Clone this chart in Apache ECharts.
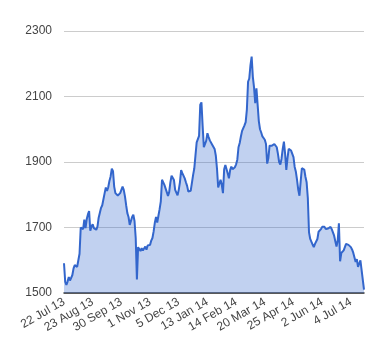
<!DOCTYPE html>
<html>
<head>
<meta charset="utf-8">
<script src="https://cdn.jsdelivr.net/npm/echarts@6/dist/echarts.min.js"></script>
<style>
html,body{margin:0;padding:0;background:#fff;}
#chart{width:380px;height:360px;}
</style>
</head>
<body>
<div id="chart"></div>
<script>
// Tick labels shown every 24 trading days along the x axis
var tickLabels = ['22 Jul 13','23 Aug 13','30 Sep 13','1 Nov 13','5 Dec 13','13 Jan 14','14 Feb 14','20 Mar 14','25 Apr 14','2 Jun 14','4 Jul 14'];
var labelEvery = 24;

// Daily closing values
var values = [
  1591,1535,1525,1535,1549,1538,1540,1555,1575,1585,1584,1580,1580,1620,1700,1700,1695,1724,1698,1725,1740,1750,1690,1703,
  1710,1698,1697,1693,1703,1730,1745,1760,1768,1772,1805,1822,1812,1823,1842,1856,1880,1872,1825,1805,1810,1798,1802,1805,
  1815,1825,1815,1795,1768,1744,1732,1708,1712,1732,1739,1720,1668,1541,1640,1637,1628,1637,1630,1633,1642,1632,1645,1645,
  1647,1660,1668,1688,1715,1732,1715,1736,1756,1780,1846,1845,1830,1835,1808,1796,1808,1838,1858,1855,1845,1815,1812,1798,
  1815,1838,1875,1866,1868,1850,1838,1827,1810,1807,1812,1815,1860,1880,1920,1960,1965,1980,2075,2082,2010,1945,1950,1965,
  1988,1976,1966,1960,1953,1947,1940,1920,1880,1822,1826,1846,1830,1805,1878,1891,1894,1865,1850,1875,1886,1878,1881,1884,
  1893,1907,1945,1958,1978,1995,1998,2012,2022,2060,2145,2155,2195,2222,2160,2128,2080,2125,2075,2025,2000,1990,1978,1975,
  1968,1955,1895,1912,1950,1955,1950,1950,1955,1953,1945,1925,1900,1892,1910,1940,1962,1925,1876,1912,1940,1940,1935,1937,
  1915,1885,1870,1845,1815,1797,1840,1881,1881,1877,1855,1838,1790,1685,1665,1665,1648,1640,1650,1652,1665,1687,1685,1695,
  1702,1698,1702,1695,1700,1697,1693,1702,1695,1692,1675,1658,1642,1660,1713,1597,1622,1627,1630,1640,1650,1652,1647,1642,
  1640,1633,1623,1617,1595,1603,1580,1585,1600,1570,1568,1510
];

var yMin = 1500, yMax = 2300, yStep = 200;

var categories = values.map(function (v, i) {
  return (i % labelEvery === 0 && tickLabels[i / labelEvery]) ? tickLabels[i / labelEvery] : '';
});

var chart = echarts.init(document.getElementById('chart'), null, {renderer: 'canvas'});
chart.setOption({
  animation: false,
  backgroundColor: '#ffffff',
  grid: {left: 64, right: 16, top: 31, bottom: 67, containLabel: false},
  xAxis: {
    type: 'category',
    data: categories,
    boundaryGap: false,
    axisLine: {show: true, lineStyle: {color: '#333333', width: 1.5}},
    axisTick: {show: false},
    splitLine: {show: false},
    axisLabel: {
      interval: labelEvery - 1,
      rotate: 30,
      margin: 8,
      color: '#444444',
      fontSize: 12,
      fontFamily: 'Liberation Sans, Arial, sans-serif'
    }
  },
  yAxis: {
    type: 'value',
    min: yMin,
    max: yMax,
    interval: yStep,
    axisLine: {show: false},
    axisTick: {show: false},
    splitLine: {show: true, lineStyle: {color: '#cccccc', width: 1}},
    axisLabel: {
      margin: 12,
      color: '#444444',
      fontSize: 12,
      fontFamily: 'Liberation Sans, Arial, sans-serif',
      formatter: function (v) { return String(v); }
    }
  },
  series: [{
    type: 'line',
    data: values,
    showSymbol: false,
    symbol: 'none',
    lineStyle: {color: '#3366cc', width: 2},
    areaStyle: {color: '#3366cc', opacity: 0.3, origin: 'start'},
    z: 2
  }]
});
</script>
</body>
</html>
